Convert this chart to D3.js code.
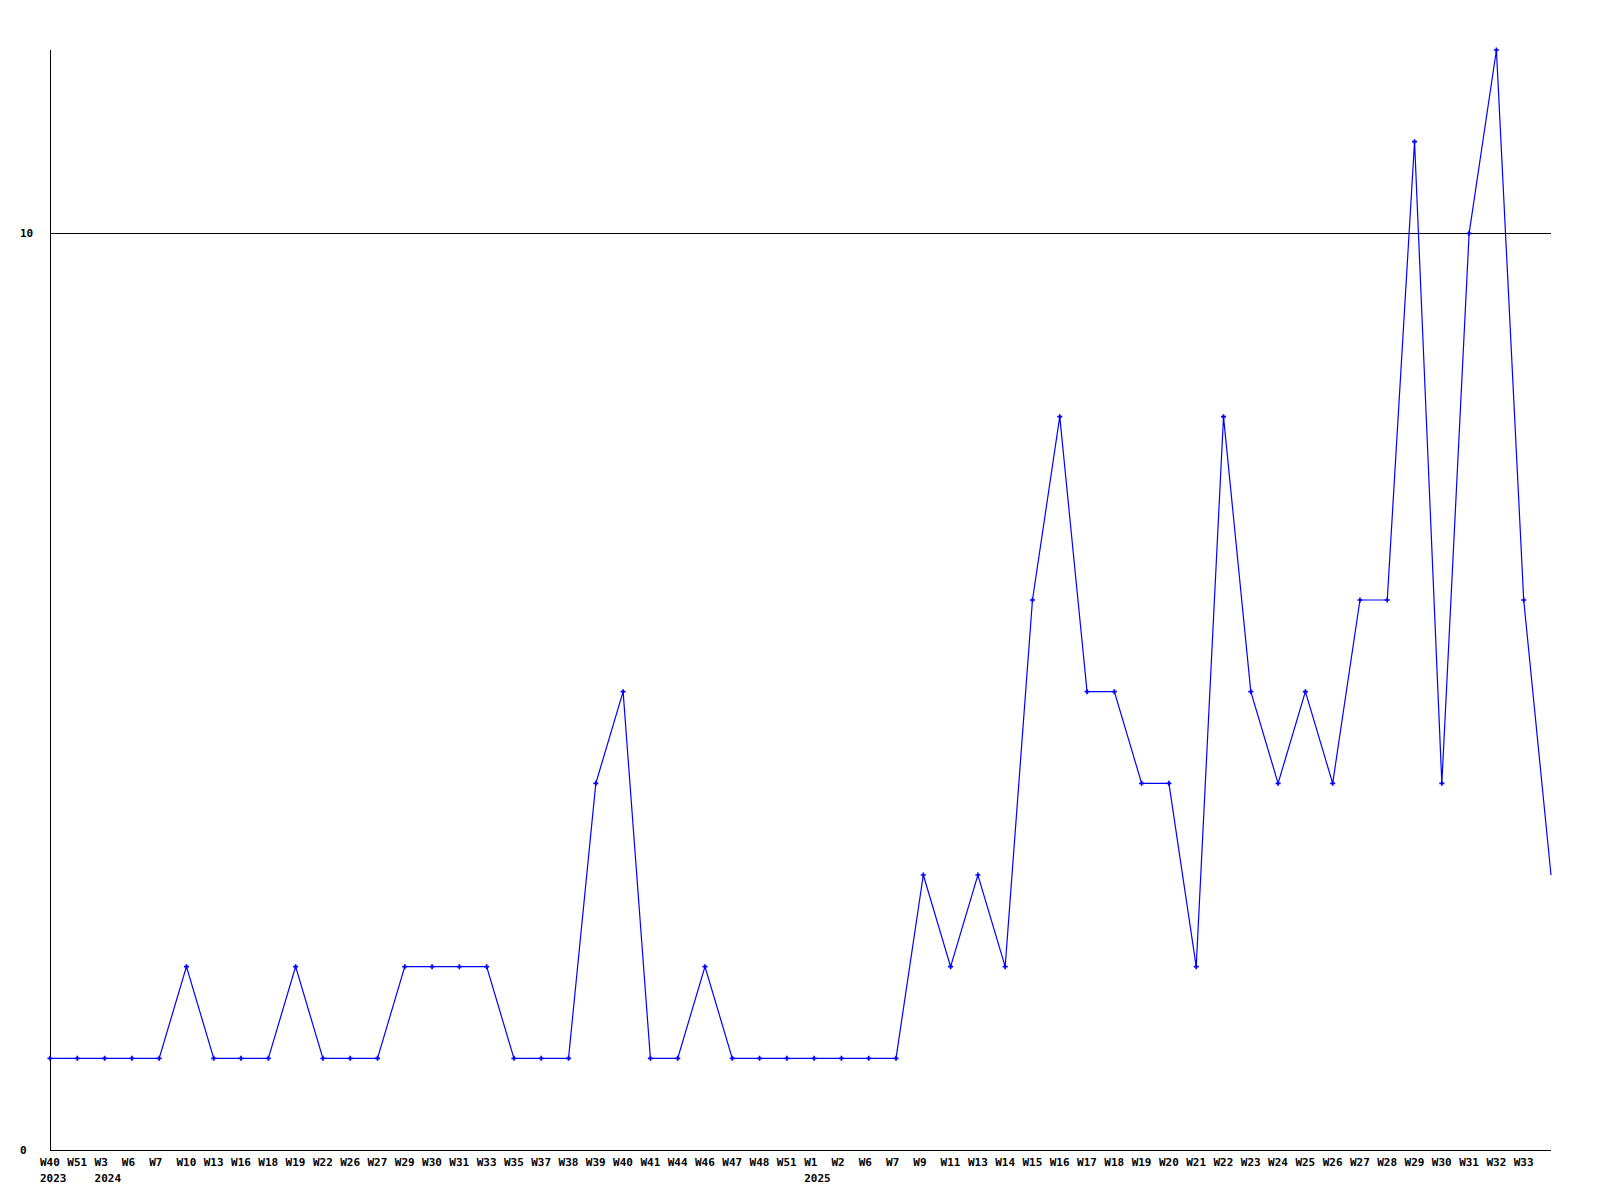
<!DOCTYPE html>
<html>
<head>
<meta charset="utf-8">
<script src="https://cdn.jsdelivr.net/npm/d3@7"></script>
<style>
  html, body { margin: 0; padding: 0; background: #fff; }
  svg { display: block; }
  text { font-family: "DejaVu Sans Mono", "Liberation Mono", monospace; font-weight: bold; font-size: 11px; fill: #000; }
</style>
</head>
<body>
<svg id="chart" width="1600" height="1200"></svg>
<script>
// Week labels (one per point; the final point is an unlabelled current value)
const weekLabels = [
  "W40","W51",
  "W3","W6","W7","W10","W13","W16","W18","W19","W22","W26","W27","W29","W30","W31","W33","W35","W37","W38","W39","W40","W41","W44","W46","W47","W48","W51",
  "W1","W2","W6","W7","W9","W11","W13","W14","W15","W16","W17","W18","W19","W20","W21","W22","W23","W24","W25","W26","W27","W28","W29","W30","W31","W32","W33",
  ""
];
const values = [
  1,1,
  1,1,1,2,1,1,1,2,1,1,1,2,2,2,2,1,1,1,4,5,1,1,2,1,1,1,
  1,1,1,1,3,2,3,2,6,8,5,5,4,4,2,8,5,4,5,4,6,6,11,4,10,12,6,
  3
];
const yearIndex = [0, 2, 28];
const yearText = ["2023", "2024", "2025"];
const yTicks = [0, 10];

const svg = d3.select("#chart");
const n = values.length;

const x = d3.scaleLinear().domain([0, n - 1]).range([50, 1551]);
const y = d3.scaleLinear().domain([0, 12]).range([1150, 50]);

// horizontal grid line at 10
svg.selectAll("line.grid").data(yTicks.filter(t => t !== 0)).enter().append("line")
  .attr("class", "grid")
  .attr("x1", x(0)).attr("x2", x(n - 1))
  .attr("y1", d => Math.round(y(d)) + 0.5).attr("y2", d => Math.round(y(d)) + 0.5)
  .attr("stroke", "#000").attr("stroke-width", 1).attr("shape-rendering", "crispEdges");

// axes
svg.append("line")
  .attr("x1", x(0) + 0.5).attr("x2", x(0) + 0.5)
  .attr("y1", y(12)).attr("y2", y(0) + 1)
  .attr("stroke", "#000").attr("shape-rendering", "crispEdges");
svg.append("line")
  .attr("x1", x(0)).attr("x2", x(n - 1))
  .attr("y1", y(0) + 0.5).attr("y2", y(0) + 0.5)
  .attr("stroke", "#000").attr("shape-rendering", "crispEdges");

// y labels
svg.selectAll("text.ylab").data(yTicks).enter().append("text")
  .attr("class", "ylab")
  .attr("x", 20)
  .attr("y", d => y(d) + 4)
  .text(d => d);

// line
const line = d3.line().x((d, i) => x(i)).y(d => y(d));
svg.append("path")
  .datum(values)
  .attr("d", line)
  .attr("fill", "none")
  .attr("stroke", "#0000ff")
  .attr("stroke-width", 1.2);

// markers
const sym = d3.symbol().type(d3.symbolCross).size(14);
svg.selectAll("path.mk").data(values.map((v, i) => ({v, i})).filter(d => weekLabels[d.i] !== ""))
  .enter().append("path")
  .attr("class", "mk")
  .attr("d", sym)
  .attr("transform", d => `translate(${x(d.i)},${y(d.v)})`)
  .attr("fill", "#0000ff");

// x labels
svg.selectAll("text.xlab").data(weekLabels).enter().append("text")
  .attr("class", "xlab")
  .attr("x", (d, i) => x(i) - 10)
  .attr("y", 1166)
  .text(d => d);

svg.selectAll("text.year").data(yearIndex).enter().append("text")
  .attr("class", "year")
  .attr("x", d => x(d) - 10)
  .attr("y", 1182)
  .text((d, i) => yearText[i]);
</script>
</body>
</html>
